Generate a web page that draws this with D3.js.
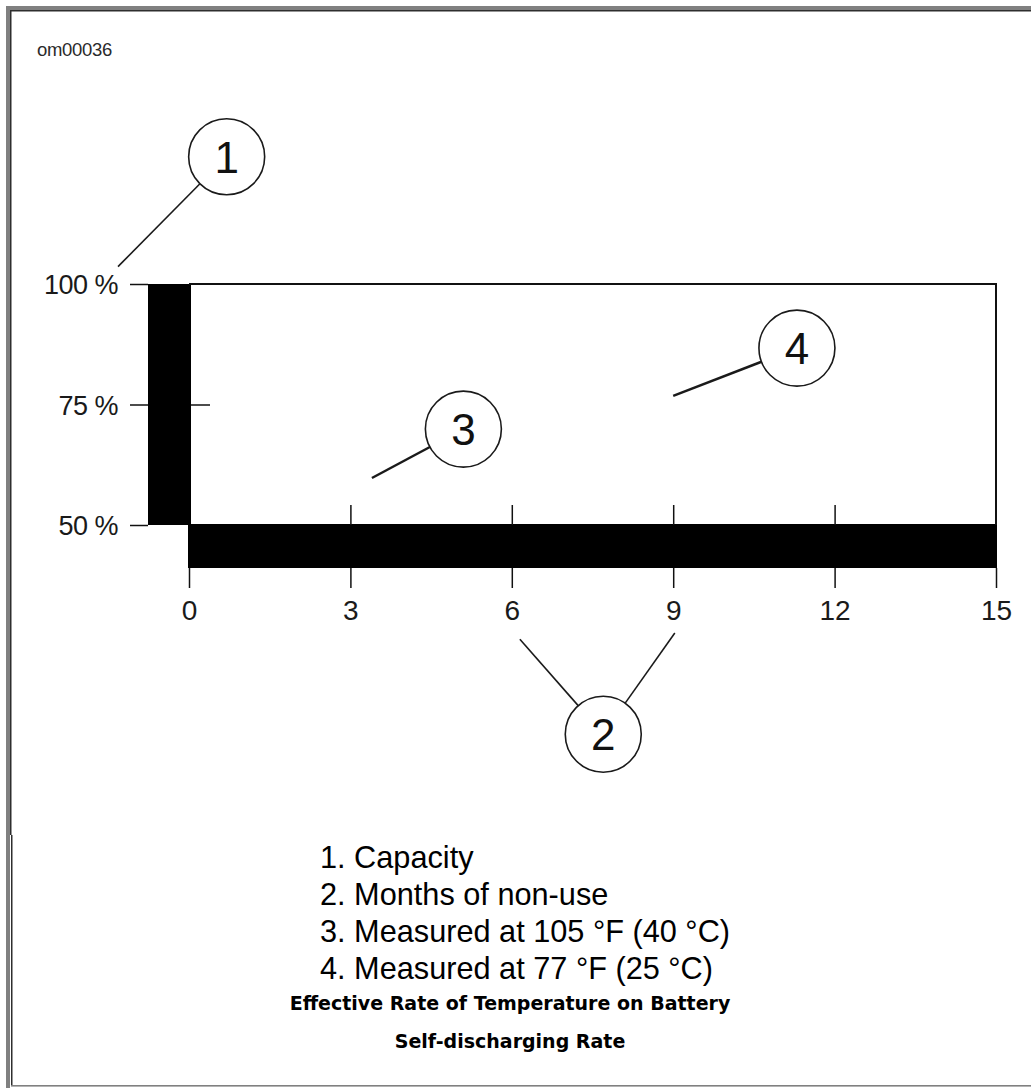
<!DOCTYPE html>
<html>
<head>
<meta charset="utf-8">
<script src="https://cdn.jsdelivr.net/npm/d3@7"></script>
<style>
  html, body { margin: 0; padding: 0; background: #fff; }
  svg { display: block; }
</style>
</head>
<body>
<svg id="chart" width="1031" height="1088"></svg>
<script>
// ---- data ----
const figureId = "om00036";
const yTicks = [50, 75, 100];           // capacity %
const yInnerTicks = [75];
const xTicks = [0, 3, 6, 9, 12, 15];    // months of non-use
const xUpperTicks = [3, 6, 9, 12];
const xDomain = [0, 15];
const yDomain = [50, 100];
// callouts: number, circle centre (months, %), leader start points (months, %)
const callouts = [
  { n: "1", cx: 0.70, cy: 126.4, leaders: [[-1.32, 103.6]] },
  { n: "2", cx: 7.70, cy: 6.6,   leaders: [[6.15, 26.3], [9.03, 27.6]] },
  { n: "3", cx: 5.10, cy: 69.9,  leaders: [[3.40, 59.75]] },
  { n: "4", cx: 11.30, cy: 86.7, leaders: [[9.00, 76.8]] }
];
const legendItems = [
  "1. Capacity",
  "2. Months of non-use",
  "3. Measured at 105 °F (40 °C)",
  "4. Measured at 77 °F (25 °C)"
];
const captionLines = [
  "Effective Rate of Temperature on Battery",
  "Self-discharging Rate"
];

// ---- drawing ----
const svg = d3.select("#chart");
const W = 1031, H = 1088;

// frame
svg.append("rect").attr("x", 6).attr("y", 6).attr("width", W - 6).attr("height", 4).attr("fill", "#808080");
svg.append("rect").attr("x", 6).attr("y", 6).attr("width", 4).attr("height", H - 6).attr("fill", "#808080");
svg.append("rect").attr("x", 10).attr("y", 10).attr("width", W - 10).attr("height", 1.5).attr("fill", "#2e2e2e");
svg.append("rect").attr("x", 10).attr("y", 10).attr("width", 1.5).attr("height", 825).attr("fill", "#2e2e2e");
svg.append("rect").attr("x", 11).attr("y", 835).attr("width", 1.5).attr("height", H - 835 - 2).attr("fill", "#2e2e2e");
svg.append("rect").attr("x", 11).attr("y", 1085).attr("width", W - 11).attr("height", 1.6).attr("fill", "#808080");

// figure id
svg.append("text").attr("x", 37).attr("y", 56)
  .attr("font-family", "Liberation Sans, Arial, sans-serif").attr("font-size", 18.5)
  .attr("fill", "#2a2a2a").attr("letter-spacing", -0.3).text(figureId);

const x = d3.scaleLinear().domain(xDomain).range([189, 996]);
const y = d3.scaleLinear().domain(yDomain).range([525, 284]);

const ink = "#111";
const g = svg.append("g");

// thick axis bars
const barW = 42, barH = 43;
g.append("rect").attr("x", x(0) - barW + 1).attr("y", y(100))
  .attr("width", barW + 1).attr("height", y(50) - y(100)).attr("fill", "#000");
g.append("rect").attr("x", x(0) - 1).attr("y", y(50) - 1)
  .attr("width", x(15) - x(0) + 2).attr("height", barH + 1).attr("fill", "#000");

// top and right frame lines of plot
g.append("line").attr("x1", x(0)).attr("x2", x(15) + 1).attr("y1", y(100)).attr("y2", y(100))
  .attr("stroke", ink).attr("stroke-width", 2);
g.append("line").attr("x1", x(15)).attr("x2", x(15)).attr("y1", y(100)).attr("y2", y(50))
  .attr("stroke", ink).attr("stroke-width", 2);

// y axis (ticks + labels on the left of the thick bar)
const yAxis = d3.axisLeft(y).tickValues(yTicks).tickSize(18).tickPadding(12)
  .tickFormat(d => d + " %");
const yg = svg.append("g").attr("transform", `translate(${x(0) - barW + 1},0)`).call(yAxis);
yg.select(".domain").remove();
yg.selectAll(".tick line").attr("stroke", ink).attr("stroke-width", 1.5);
yg.selectAll(".tick text").attr("font-family", "Liberation Sans, Arial, sans-serif")
  .attr("font-size", 27).attr("fill", "#1a1a1a").attr("dy", "0.36em").attr("letter-spacing", -0.5);

// inner tick at 75%
const yig = svg.append("g").attr("transform", `translate(${x(0) + 2},0)`)
  .call(d3.axisRight(y).tickValues(yInnerTicks).tickSize(19).tickFormat(""));
yig.select(".domain").remove();
yig.selectAll(".tick line").attr("stroke", ink).attr("stroke-width", 1.5);

// x axis below bottom bar
const xAxis = d3.axisBottom(x).tickValues(xTicks).tickSize(20).tickPadding(12);
const xg = svg.append("g").attr("transform", `translate(0,${y(50) + barH})`).call(xAxis);
xg.select(".domain").remove();
xg.selectAll(".tick line").attr("stroke", ink).attr("stroke-width", 1.5);
xg.selectAll(".tick text").attr("font-family", "Liberation Sans, Arial, sans-serif")
  .attr("font-size", 28).attr("fill", "#1a1a1a");

// upper ticks above bottom bar
const xug = svg.append("g").attr("transform", `translate(0,${y(50)})`)
  .call(d3.axisTop(x).tickValues(xUpperTicks).tickSize(20).tickFormat(""));
xug.select(".domain").remove();
xug.selectAll(".tick line").attr("stroke", ink).attr("stroke-width", 1.5);

// callouts
const R = 38;
callouts.forEach(c => {
  const cx = x(c.cx), cy = y(c.cy);
  c.leaders.forEach(([lx, ly]) => {
    const px = x(lx), py = y(ly);
    const ang = Math.atan2(py - cy, px - cx);
    svg.append("line")
      .attr("x1", px).attr("y1", py)
      .attr("x2", cx + R * Math.cos(ang)).attr("y2", cy + R * Math.sin(ang))
      .attr("stroke", "#1a1a1a").attr("stroke-width", (c.n === "3" || c.n === "4") ? 2.5 : 1.6);
  });
  svg.append("circle").attr("cx", cx).attr("cy", cy).attr("r", R)
    .attr("fill", "#fff").attr("stroke", "#1a1a1a").attr("stroke-width", 1.6);
  svg.append("text").attr("x", cx).attr("y", cy).attr("dy", "0.36em")
    .attr("text-anchor", "middle").attr("font-family", "Liberation Sans, Arial, sans-serif")
    .attr("font-size", 44).attr("fill", "#111").text(c.n);
});

// legend
svg.append("g").selectAll("text").data(legendItems).join("text")
  .attr("x", 320).attr("y", (d, i) => 868 + i * 37)
  .attr("font-family", "Liberation Sans, Arial, sans-serif").attr("font-size", 30.7)
  .attr("fill", "#000").text(d => d);

// caption
svg.append("g").selectAll("text").data(captionLines).join("text")
  .attr("x", 510).attr("y", (d, i) => 1010 + i * 38)
  .attr("text-anchor", "middle")
  .attr("font-family", "DejaVu Sans, Verdana, sans-serif").attr("font-weight", "bold")
  .attr("font-size", 19).attr("fill", "#000").text(d => d);
</script>
</body>
</html>
